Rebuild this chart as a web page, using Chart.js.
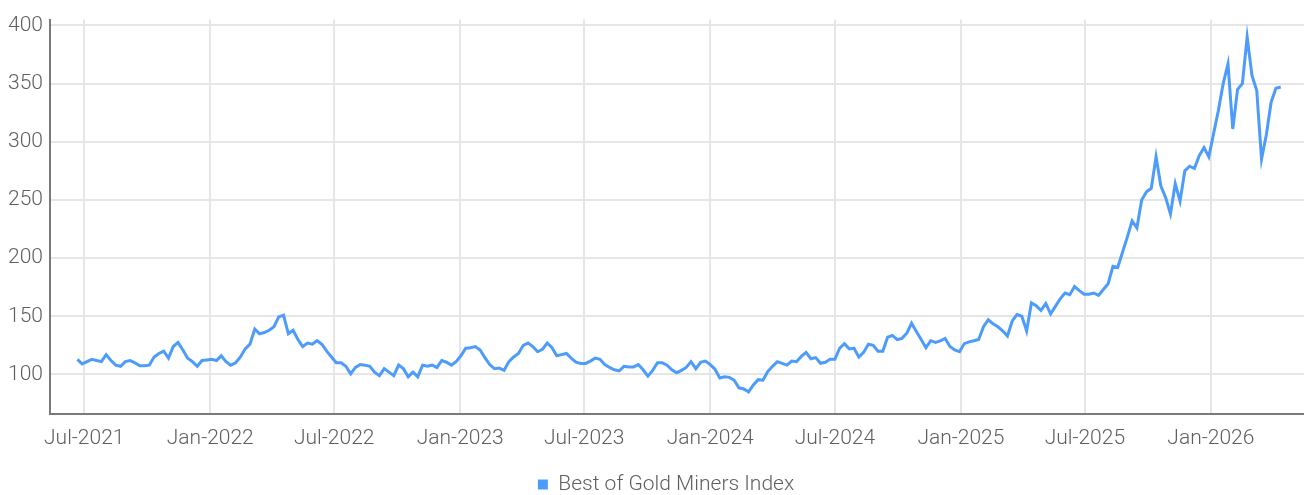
<!DOCTYPE html>
<html>
<head>
<meta charset="utf-8">
<script src="https://cdn.jsdelivr.net/npm/chart.js@4.4.1/dist/chart.umd.min.js"></script>
<style>
  body { margin: 0; background: #fff; }
</style>
</head>
<body>
<canvas id="goldChart" width="1304" height="495"></canvas>
<script>
// weekly closes, first week 2021-06-21
const startDate = '2021-06-21';
const indexValues = [
  113, 109, 111, 113, 112, 111, 117, 112, 108, 107, 111, 112, 110, 107.5, 107.5, 108, 115, 118, 120, 114,
  124, 127.5, 121, 114, 111, 107, 112, 112.5, 113, 112, 116, 111, 108, 110, 115, 122, 126, 139, 135, 136,
  138, 141, 149.5, 151, 135, 138, 130, 124, 127, 126, 129, 126, 120, 115, 110, 110, 107, 100.5, 106, 108.5,
  108, 107, 102, 99, 105, 102, 99, 108, 105, 98, 102, 98, 108, 107, 108, 106, 112, 110.5, 108, 111,
  116, 122.5, 123, 124, 121, 114.5, 108.5, 105, 105.5, 103.5, 111, 115, 118, 125, 127, 124, 119.5, 121.5, 127, 123,
  116, 117, 118, 114, 110.5, 109.5, 109.5, 111.5, 114, 113, 108.5, 106, 104, 103, 107, 106.5, 106.5, 108.5, 104, 98.5,
  103.5, 110, 110, 108, 104, 101.5, 103.5, 106, 111, 105, 110.5, 111.5, 108.5, 104.5, 97, 98, 97.5, 95, 88.5, 87.5,
  85, 91, 95.5, 95, 102.5, 107, 111, 109.5, 108, 111.5, 111, 115.5, 119, 113.5, 114.5, 109.6, 110.5, 113, 113, 122.5,
  126.5, 122, 122.5, 115, 119, 126, 125, 120, 120, 132, 133.5, 130, 131, 135.5, 144, 137, 130, 123, 129, 127.5,
  128.8, 131, 124, 121, 119.5, 126.5, 128, 129, 130, 141, 147, 143.5, 141, 137.5, 133, 146, 151.5, 150, 137.3, 161.5,
  159, 155, 161, 152, 158.5, 165, 170, 168.5, 175.5, 172, 169, 169, 170, 168, 173, 178, 193, 192, 205, 218,
  232, 226, 250, 257, 260, 287, 262, 252, 238, 264, 249, 275, 279, 277, 288, 295, 287, 307, 327, 350,
  367, 311, 345, 350, 390, 357, 344, 285, 306, 334, 346, 347
];

const tickDates = ['2021-07-01', '2022-01-01', '2022-07-01', '2023-01-01', '2023-07-01',
  '2024-01-01', '2024-07-01', '2025-01-01', '2025-07-01', '2026-01-01'];
const tickLabels = ['Jul-2021', 'Jan-2022', 'Jul-2022', 'Jan-2023', 'Jul-2023',
  'Jan-2024', 'Jul-2024', 'Jan-2025', 'Jul-2025', 'Jan-2026'];
const yTicks = [100, 150, 200, 250, 300, 350, 400];

const DAY = 86400000;
const t0 = Date.parse(startDate);
const points = indexValues.map((v, i) => ({ x: t0 + i * 7 * DAY, y: v }));
const tickTimes = tickDates.map(d => Date.parse(d));

const blue = '#4d9cfb';
const textColor = '#5f5f5f';
const font = { family: 'Roboto', size: 21, weight: '300' };

// legend in the reference sits centred under the plot area, not the canvas
const legendShift = {
  id: 'legendShift',
  afterLayout(chart) {
    chart.legend.left += 14;
    chart.legend.right += 14;
  }
};

new Chart(document.getElementById('goldChart'), {
  type: 'line',
  data: {
    datasets: [{
      label: 'Best of Gold Miners Index',
      data: points,
      borderColor: blue,
      backgroundColor: blue,
      borderWidth: 3,
      pointRadius: 0,
      tension: 0
    }]
  },
  options: {
    responsive: false,
    animation: false,
    layout: { padding: { top: 14, right: 0, bottom: -10, left: 0 } },
    scales: {
      x: {
        type: 'linear',
        min: Date.parse('2021-05-12'),
        max: Date.parse('2026-05-17'),
        afterBuildTicks: scale => { scale.ticks = tickTimes.map(v => ({ value: v })); },
        afterFit: scale => { scale.height = 50; },
        ticks: {
          color: textColor,
          font: font,
          padding: 12,
          maxRotation: 0,
          autoSkip: false,
          callback: value => tickLabels[tickTimes.indexOf(value)]
        },
        grid: { color: '#e6e6e6', lineWidth: 2, drawTicks: false },
        border: { display: true, color: '#7a7a7a', width: 2 }
      },
      y: {
        min: 66,
        max: 405,
        afterBuildTicks: scale => { scale.ticks = yTicks.map(v => ({ value: v })); },
        afterFit: scale => { scale.width = 50; },
        ticks: { color: textColor, font: font, padding: 7 },
        grid: { color: '#e6e6e6', lineWidth: 2, drawTicks: false },
        border: { display: true, color: '#7a7a7a', width: 2 }
      }
    },
    plugins: {
      tooltip: { enabled: false },
      legend: {
        position: 'bottom',
        labels: {
          color: textColor,
          font: font,
          boxWidth: 10,
          boxHeight: 10,
          padding: 10,
          generateLabels: chart => Chart.defaults.plugins.legend.labels.generateLabels(chart)
            .map(item => Object.assign(item, { lineWidth: 0 }))
        }
      }
    }
  },
  plugins: [legendShift]
});
</script>
</body>
</html>
